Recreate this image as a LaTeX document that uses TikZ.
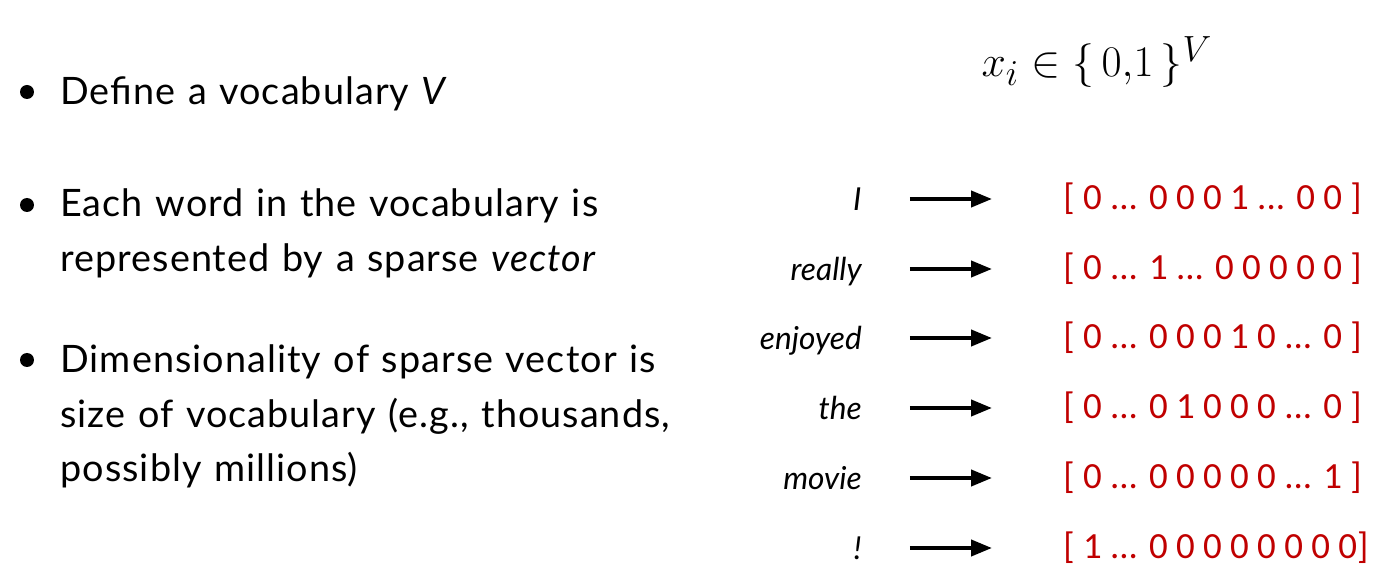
\documentclass[tikz,border=0pt]{standalone}
\usepackage{fontspec}
\setmainfont{Lato}
\newfontfamily\bulletfont[LetterSpace=2.8]{Lato}
\newfontfamily\vecfont{Carlito}
\usepackage{tikz}
\usetikzlibrary{arrows.meta,positioning}
\definecolor{oneHotRed}{RGB}{192,0,0}

\begin{document}
\begin{tikzpicture}[
      x=0.02cm, y=-0.02cm,
      dot/.style={circle, fill=black, inner sep=0pt, minimum size=0.28cm},
      bullettext/.style={anchor=base west, inner sep=0pt, text width=14cm,
        align=left, font=\fontsize{21.5}{31}\selectfont\bulletfont},
      word/.style={anchor=east, inner sep=0pt, text height=15.6pt,
        text depth=2pt, font=\fontsize{18}{20}\selectfont\itshape},
      onehot/.style={anchor=west, inner sep=0pt, text height=15pt,
        text depth=2.5pt, text=oneHotRed, font=\fontsize{21}{24}\selectfont\vecfont},
      maps/.style={->, line width=2.3pt},
      >={Triangle[length=0.42cm,width=0.32cm]}
    ]
      \useasboundingbox (0,0) rectangle (1397,587);

      % Definition of x_i
      \node[anchor=base, font=\fontsize{30}{34}\selectfont] (xdef) at (1097,77)
        {$x_i \in \{\,0{,}1\,\}^V$};

      % Bullet points
      \node[dot] (d1) at (27,92) {};
      \node[bullettext] (b1) at (60,105) {Define a vocabulary \textit{V}};

      \node[dot] (d2) at (27,205) {};
      \node[bullettext] (b2) at (60,217)
        {Each word in the vocabulary is\\represented by a sparse \textit{vector}};

      \node[dot] (d3) at (27,360) {};
      \node[bullettext] (b3) at (60,373)
        {Dimensionality of sparse vector is\\size of vocabulary (e.g., thousands,\\possibly millions)};

      % Words
      \node[word] (w1) at (862,199) {I};
      \node[word] (w2) at (862,269) {really};
      \node[word] (w3) at (862,338) {enjoyed};
      \node[word] (w4) at (862,408) {the};
      \node[word] (w5) at (862,478) {movie};
      \node[word] (w6) at (862,548) {!};

      % One-hot vectors
      \node[onehot] (v1) at (1063,199) {[ 0 ... 0 0 0 1 ... 0 0 ]};
      \node[onehot] (v2) at (1063,269) {[ 0 ... 1 ... 0 0 0 0 0 ]};
      \node[onehot] (v3) at (1063,338) {[ 0 ... 0 0 0 1 0 ... 0 ]};
      \node[onehot] (v4) at (1063,408) {[ 0 ... 0 1 0 0 0 ... 0 ]};
      \node[onehot] (v5) at (1063,478) {[ 0 ... 0 0 0 0 0 ... 1 ]};
      \node[onehot] (v6) at (1063,548) {[ 1 ... 0 0 0 0 0 0 0 0]};

      % Arrows
      \draw[maps] ([xshift=0.96cm]w1.east) -- ([xshift=-1.42cm]v1.west);
      \draw[maps] ([xshift=0.96cm]w2.east) -- ([xshift=-1.42cm]v2.west);
      \draw[maps] ([xshift=0.96cm]w3.east) -- ([xshift=-1.42cm]v3.west);
      \draw[maps] ([xshift=0.96cm]w4.east) -- ([xshift=-1.42cm]v4.west);
      \draw[maps] ([xshift=0.96cm]w5.east) -- ([xshift=-1.42cm]v5.west);
      \draw[maps] ([xshift=0.96cm]w6.east) -- ([xshift=-1.42cm]v6.west);
    \end{tikzpicture}
\end{document}
